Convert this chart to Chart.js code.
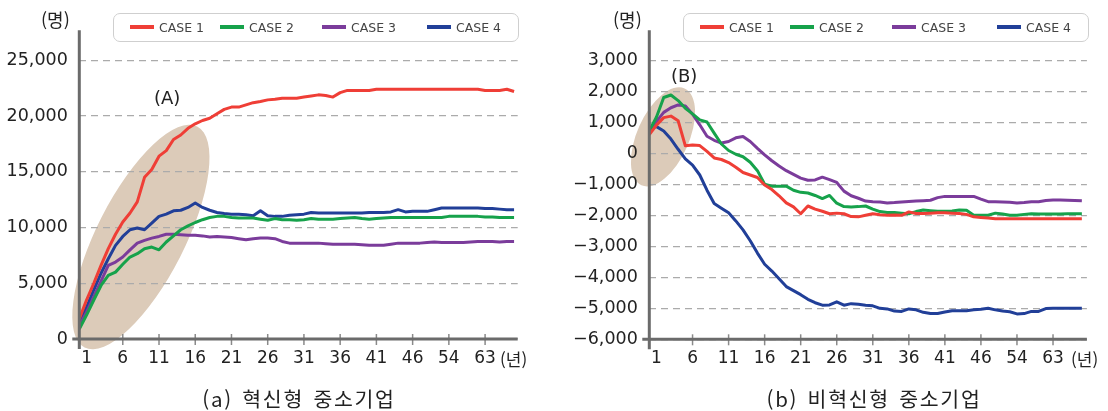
<!DOCTYPE html>
<html lang="ko">
<head>
    <meta charset="UTF-8">
    <title>혁신형 / 비혁신형 중소기업 CASE 비교</title>
    <script src="https://cdn.jsdelivr.net/npm/chart.js"></script>
    <style>
        body { margin: 0; background: #fff; width: 1108px; height: 411px; position: relative; overflow: hidden;
               font-family: "DejaVu Sans", sans-serif; color: #222; }
        .panel { position: absolute; top: 0; width: 554px; height: 411px; }
        .panel canvas { position: absolute; left: 0; top: 0; }
        .unit, .year, .title { position: absolute; font-family: "Noto Sans CJK KR", sans-serif; white-space: nowrap; }
        .unit { top: 7px; font-size: 18px; line-height: 24px; }
        .year { top: 347px; font-size: 17px; line-height: 24px; }
        .title { top: 386px; font-size: 20.5px; line-height: 24px; text-align: center; width: 300px;
                 letter-spacing: 1.7px; word-spacing: 2px; }
        .tag { position: absolute; font-size: 18px; line-height: 20px; }
        .legend { position: absolute; top: 13px; width: 406px; height: 29px; border: 1.5px solid #cfcfcf;
                  border-radius: 7px; box-sizing: border-box; }
        .legend .item { position: absolute; top: 0; height: 26px; display: flex; align-items: center;
                        font-size: 12.5px; color: #444; }
        .legend .swatch { width: 24px; height: 3.5px; margin-right: 5px; }
    </style>
</head>
<body>

    <div class="panel" style="left:0">
        <canvas id="chartA" width="554" height="411"></canvas>
        <div class="unit" style="left:41px">(명)</div>
        <div class="legend" id="legendA" style="left:113px"></div>
        <div class="tag" style="left:154px; top:88px">(A)</div>
        <div class="year" style="left:500px">(년)</div>
        <div class="title" style="left:149px">(a) 혁신형 중소기업</div>
    </div>

    <div class="panel" style="left:554px">
        <canvas id="chartB" width="554" height="411"></canvas>
        <div class="unit" style="left:59px">(명)</div>
        <div class="legend" id="legendB" style="left:129px"></div>
        <div class="tag" style="left:117px; top:66px">(B)</div>
        <div class="year" style="left:517px">(년)</div>
        <div class="title" style="left:170px">(b) 비혁신형 중소기업</div>
    </div>

    <script>
        // x axis: years since start, labels as printed on the original figure
        const years = [0, 1, 2, 3, 4, 5, 6, 7, 8, 9, 10, 11, 12, 13, 14, 15, 16, 17, 18, 19, 20,
                       21, 22, 23, 24, 25, 26, 27, 28, 29, 30, 31, 32, 33, 34, 35, 36, 37, 38, 39, 40,
                       41, 42, 43, 44, 45, 46, 47, 48, 49, 50, 51, 52, 53, 54, 55, 56, 57, 58, 59, 60];
        const xTickYears = [1, 6, 11, 16, 21, 26, 31, 36, 41, 46, 51, 56];
        const xTickLabels = ["1", "6", "11", "16", "21", "26", "31", "36", "41", "46", "54", "63"];

        const caseNames = ["CASE 1", "CASE 2", "CASE 3", "CASE 4"];
        const caseColors = ["#ef3e36", "#16a24b", "#7b3c9b", "#213f98"];

        // (a) 혁신형 중소기업
        const innovCase1 = [1800, 3500, 5000, 6600, 8100, 9400, 10500, 11300, 12300, 14500, 15200,
                            16400, 16900, 17900, 18300, 18900, 19300, 19600, 19800, 20200, 20600,
                            20800, 20800, 21000, 21200, 21300, 21450, 21500, 21600, 21600, 21600,
                            21700, 21800, 21900, 21850, 21700, 22100, 22300, 22300, 22300, 22300,
                            22400, 22400, 22400, 22400, 22400, 22400, 22400, 22400, 22400, 22400,
                            22400, 22400, 22400, 22400, 22400, 22300, 22300, 22300, 22400, 22200];
        const innovCase2 = [900, 2150, 3500, 4800, 5700, 6000, 6700, 7350, 7650, 8100, 8250,
                            8000, 8700, 9250, 9800, 10150, 10450, 10700, 10900, 11000, 11000,
                            10900, 10850, 10850, 10850, 10750, 10650, 10800, 10700, 10700, 10650,
                            10700, 10800, 10750, 10750, 10750, 10800, 10850, 10900, 10800, 10750,
                            10800, 10850, 10900, 10900, 10900, 10900, 10900, 10900, 10900, 10900,
                            11000, 11000, 11000, 11000, 11000, 10950, 10950, 10900, 10900, 10900];
        const innovCase3 = [1200, 2400, 3800, 5200, 6600, 6900, 7350, 8000, 8600, 8850, 9050,
                            9200, 9400, 9400, 9350, 9300, 9300, 9250, 9150, 9200, 9150,
                            9100, 9000, 8900, 9000, 9050, 9050, 9000, 8750, 8600, 8600,
                            8600, 8600, 8600, 8550, 8500, 8500, 8500, 8500, 8450, 8400,
                            8400, 8400, 8500, 8600, 8600, 8600, 8600, 8650, 8700, 8650,
                            8650, 8650, 8650, 8700, 8750, 8750, 8750, 8700, 8750, 8750];
        const innovCase4 = [1600, 2850, 4400, 5900, 7200, 8400, 9200, 9800, 9950, 9800, 10400,
                            11000, 11200, 11500, 11550, 11800, 12200, 11800, 11550, 11350, 11250,
                            11200, 11200, 11150, 11050, 11500, 11050, 11000, 11000, 11100, 11150,
                            11200, 11350, 11300, 11300, 11300, 11300, 11300, 11300, 11300, 11350,
                            11350, 11350, 11400, 11600, 11400, 11450, 11450, 11450, 11600, 11750,
                            11750, 11750, 11750, 11750, 11750, 11700, 11700, 11650, 11600, 11600];
        const yTicksA = [0, 5000, 10000, 15000, 20000, 25000];

        // (b) 비혁신형 중소기업
        const nonInnovCase1 = [600, 910, 1150, 1200, 1050, 240, 270, 250, 60, -150, -200,
                               -300, -450, -620, -700, -780, -1020, -1170, -1370, -1600, -1730,
                               -1950, -1700, -1800, -1870, -1950, -1930, -1950, -2040, -2050, -2000,
                               -1950, -1980, -2000, -1990, -2000, -1890, -1940, -1940, -1930, -1920,
                               -1920, -1930, -1940, -1970, -2050, -2070, -2090, -2110, -2110, -2110,
                               -2110, -2110, -2110, -2110, -2110, -2110, -2110, -2110, -2110, -2110];
        const nonInnovCase2 = [720, 1170, 1800, 1880, 1700, 1450, 1270, 1080, 1010, 650, 300,
                               90, -30, -110, -290, -560, -1000, -1060, -1060, -1060, -1190,
                               -1260, -1280, -1360, -1460, -1360, -1610, -1720, -1730, -1720, -1700,
                               -1800, -1880, -1910, -1910, -1930, -1950, -1880, -1830, -1850, -1870,
                               -1870, -1860, -1830, -1840, -2000, -2000, -2000, -1930, -1960, -2000,
                               -2000, -1970, -1950, -1960, -1960, -1960, -1955, -1950, -1950, -1950];
        const nonInnovCase3 = [700, 1030, 1320, 1470, 1560, 1530, 1260, 920, 550, 420, 330,
                               380, 500, 540, 380, 160, -50, -240, -410, -560, -680,
                               -800, -870, -860, -770, -850, -940, -1220, -1370, -1450, -1540,
                               -1560, -1570, -1600, -1590, -1570, -1555, -1540, -1530, -1515, -1430,
                               -1390, -1390, -1390, -1390, -1390, -1480, -1560, -1560, -1570, -1580,
                               -1600, -1590, -1560, -1560, -1520, -1510, -1510, -1515, -1520, -1530];
        const nonInnovCase4 = [800, 860, 720, 460, 130, -180, -380, -700, -1190, -1620, -1770,
                               -1920, -2180, -2470, -2820, -3220, -3580, -3800, -4050, -4300, -4430,
                               -4560, -4710, -4820, -4900, -4890, -4790, -4900, -4850, -4870, -4900,
                               -4920, -5000, -5020, -5090, -5100, -5020, -5050, -5130, -5170, -5170,
                               -5120, -5080, -5080, -5080, -5050, -5030, -5000, -5050, -5090, -5110,
                               -5180, -5170, -5100, -5100, -5010, -5000, -5000, -5000, -5000, -5000];
        const yTicksB = [-6000, -5000, -4000, -3000, -2000, -1000, 0, 1000, 2000, 3000];

        Chart.defaults.font.family = '"DejaVu Sans", sans-serif';
        Chart.defaults.color = "#222";

        function fmt(v) {
            return (v < 0 ? "\u2212" : "") + Math.abs(v).toLocaleString("en-US");
        }

        // shaded ellipse behind the early years + the hand drawn looking axes
        function makeOverlay(spot) {
            return {
                id: "overlay",
                beforeDraw(chart) {
                    const c = chart.ctx;
                    const cx = chart.scales.x.getPixelForValue(spot.year);
                    const cy = chart.scales.y.getPixelForValue(spot.value);
                    c.save();
                    c.fillStyle = "#dccbb9";
                    c.beginPath();
                    c.ellipse(cx, cy, spot.rx, spot.ry, -spot.angle * Math.PI / 180, 0, Math.PI * 2);
                    c.fill();
                    c.restore();
                },
                afterDatasetsDraw(chart) {
                    const c = chart.ctx;
                    const a = chart.chartArea;
                    c.save();
                    c.strokeStyle = "#8a8a8a";
                    c.lineWidth = 1.5;
                    xTickYears.slice(1).forEach(v => {
                        const px = chart.scales.x.getPixelForValue(v);
                        c.beginPath();
                        c.moveTo(px, a.bottom - 5);
                        c.lineTo(px, a.bottom + 6);
                        c.stroke();
                    });
                    c.strokeStyle = "#6b6b6b";
                    c.lineWidth = 3;
                    c.beginPath();
                    c.moveTo(a.left, a.top - 30);
                    c.lineTo(a.left, a.bottom + 10);
                    c.moveTo(a.left - 7, a.bottom);
                    c.lineTo(a.right, a.bottom);
                    c.stroke();
                    c.restore();
                }
            };
        }

        function buildChart(canvasId, legendId, series, yTicks, xMax, pad, spot) {
            const datasets = series.map((data, i) => ({
                label: caseNames[i],
                data: years.map((y, j) => ({ x: y, y: data[j] })),
                borderColor: caseColors[i],
                borderWidth: 3,
                pointRadius: 0,
                tension: 0,
                borderJoinStyle: "round"
            }));

            new Chart(document.getElementById(canvasId), {
                type: "line",
                data: { datasets: datasets },
                options: {
                    responsive: false,
                    animation: false,
                    devicePixelRatio: 1,
                    layout: { padding: { left: 0, top: pad.top, right: pad.right, bottom: pad.bottom - 40 } },
                    plugins: { legend: { display: false }, tooltip: { enabled: false } },
                    scales: {
                        x: {
                            type: "linear",
                            min: 0,
                            max: xMax,
                            afterBuildTicks: s => { s.ticks = xTickYears.map(v => ({ value: v })); },
                            afterFit: s => { s.height = 40; },
                            grid: { display: false, drawTicks: false },
                            border: { display: false },
                            ticks: {
                                autoSkip: false,
                                maxRotation: 0,
                                padding: 9,
                                font: { size: 17 },
                                color: "#222",
                                callback: (v, i) => xTickLabels[i]
                            }
                        },
                        y: {
                            min: yTicks[0],
                            max: yTicks[yTicks.length - 1],
                            afterBuildTicks: s => { s.ticks = yTicks.map(v => ({ value: v })); },
                            afterFit: s => { s.width = pad.left; },
                            grid: { color: "#ababab", lineWidth: 1.3, drawTicks: false },
                            border: { display: false, dash: [7, 5] },
                            ticks: {
                                padding: 11.5,
                                font: { size: 17.5 },
                                color: "#222",
                                callback: v => fmt(v)
                            }
                        }
                    }
                },
                plugins: [makeOverlay(spot)]
            });

            // legend drawn as html, offsets follow the original figure
            const legend = document.getElementById(legendId);
            const offsets = [16, 106, 208, 313];
            datasets.forEach((ds, i) => {
                const item = document.createElement("div");
                item.className = "item";
                item.style.left = offsets[i] + "px";
                item.innerHTML = `<span class="swatch" style="background:${ds.borderColor}"></span>${ds.label}`;
                legend.appendChild(item);
            });
        }

        buildChart("chartA", "legendA",
            [innovCase1, innovCase2, innovCase3, innovCase4], yTicksA, 60.5,
            { left: 79.3, top: 60.3, right: 36.3, bottom: 72 },
            { year: 8.5, value: 9150, rx: 124, ry: 44, angle: 63 });

        buildChart("chartB", "legendB",
            [nonInnovCase1, nonInnovCase2, nonInnovCase3, nonInnovCase4], yTicksB, 60.7,
            { left: 95.3, top: 60.3, right: 21.1, bottom: 71.7 },
            { year: 1.9, value: 530, rx: 53, ry: 26, angle: 66 });
    </script>
</body>
</html>
